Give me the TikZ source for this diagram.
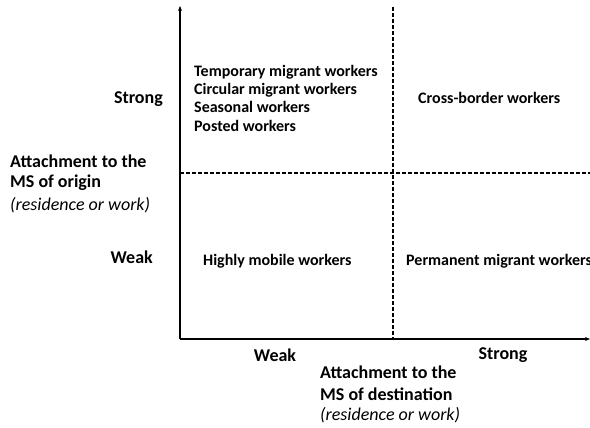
\documentclass[tikz,border=0pt]{standalone}
\usepackage{fontspec}
\setmainfont{Carlito}
\usetikzlibrary{arrows.meta}
\begin{document}
\begin{tikzpicture}[x=1pt,y=-1pt,
  axis/.style={line width=1.5pt,-{Stealth[length=5pt,width=4pt]}},
  divider/.style={line width=1.2pt,dash pattern=on 4pt off 2pt},
  biglab/.style={font=\fontsize{18}{22}\selectfont\bfseries,inner sep=0pt},
  italab/.style={font=\fontsize{18}{22}\selectfont\itshape,inner sep=0pt},
  cell/.style={font=\fontsize{16}{18.2}\selectfont\bfseries,inner sep=0pt,align=left}]
\useasboundingbox (0,0) rectangle (590,428);
% axes
\coordinate (O) at (180,339);
\coordinate (ytop) at (180,6);
\coordinate (xend) at (590,339);
\draw[axis] (O) -- (ytop);
\draw[axis] (O) -- (xend);
% dividers
\coordinate (vtop) at (393,7);
\coordinate (vbot) at (393,339);
\coordinate (hl) at (180,173);
\coordinate (hr) at (590,173);
\draw[divider] (vtop) -- (vbot);
\draw[divider] (hl) -- (hr);
% left axis labels
\node[biglab,anchor=east] (ystrong) at (163,99) {Strong};
\node[biglab,anchor=east] (yweak) at (153,257) {Weak};
\node[biglab,anchor=west] (ya1) at (10,161) {Attachment to the};
\node[biglab,anchor=west] (ya2) at (10,183) {MS of origin};
\node[italab,anchor=west] (ya3) at (10,205) {(residence or work)};
% bottom labels
\node[biglab] (xweak) at (275,355) {Weak};
\node[biglab] (xstrong) at (503,355) {Strong};
\node[biglab,anchor=west] (xa1) at (320,372) {Attachment to the};
\node[biglab,anchor=west] (xa2) at (320,394) {MS of destination};
\node[italab,anchor=west] (xa3) at (320,415) {(residence or work)};
% cells
\node[cell,anchor=north west] (tl) at (194,65) {Temporary migrant workers\\Circular migrant workers\\Seasonal workers\\Posted workers};
\node[cell,anchor=west] (tr) at (418,98) {Cross-border workers};
\node[cell,anchor=west] (bl) at (203,261) {Highly mobile workers};
\node[cell,anchor=west] (br) at (406,261) {Permanent migrant workers};
\end{tikzpicture}
\end{document}
